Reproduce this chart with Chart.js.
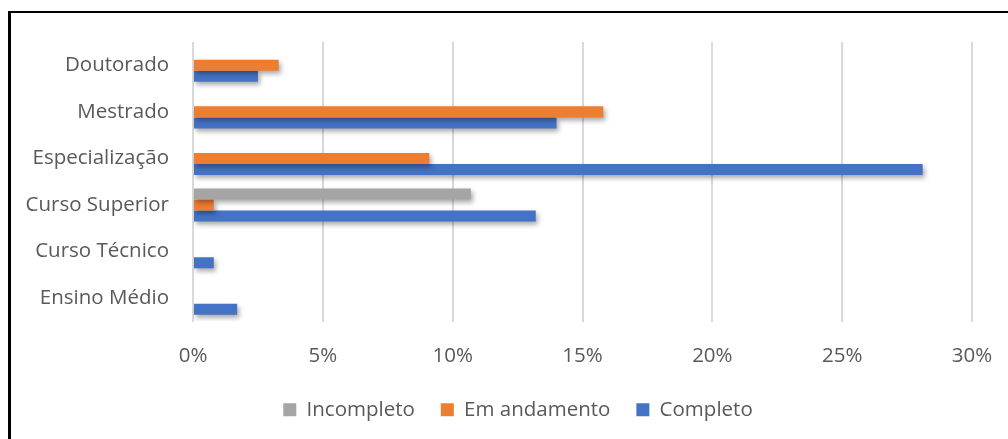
<!DOCTYPE html>
<html lang="pt">
<head>
<meta charset="utf-8">
<title>Escolaridade</title>
<script src="https://cdn.jsdelivr.net/npm/chart.js@4/dist/chart.umd.min.js"></script>
<style>
  html, body { margin: 0; padding: 0; background: #fff; }
  #wrap { position: relative; width: 1008px; height: 439px; overflow: hidden; }
  /* moldura: só topo e esquerda aparecem */
  #frame { position: absolute; left: 8px; top: 11px; width: 1010px; height: 440px;
           border-top: 2px solid #000; border-left: 3px solid #000; }
  #grafico { position: absolute; left: 0; top: 0; }
</style>
</head>
<body>
<div id="wrap">
  <div id="frame"></div>
  <canvas id="grafico" width="1008" height="439"></canvas>
</div>
<script>
// níveis de formação (de cima para baixo)
const niveis = ['Doutorado', 'Mestrado', 'Especialização', 'Curso Superior', 'Curso Técnico', 'Ensino Médio'];

// percentuais por situação
const incompleto  = [0, 0, 0, 10.7, 0, 0];
const emAndamento = [3.3, 15.8, 9.1, 0.8, 0, 0];
const completo    = [2.5, 14.0, 28.1, 13.2, 0.8, 1.7];

const ticksX = [0, 5, 10, 15, 20, 25, 30];

const fonte = { family: "'Open Sans', 'Liberation Sans', sans-serif", size: 20.5 };
const cinzaTexto = '#595959';

// sombra suave sob as barras
const sombraBarras = {
  id: 'sombraBarras',
  beforeDatasetsDraw(chart) {
    const c = chart.ctx;
    c.save();
    c.shadowColor = 'rgba(0,0,0,0.35)';
    c.shadowBlur = 5;
    c.shadowOffsetX = 2;
    c.shadowOffsetY = 3;
  },
  afterDatasetsDraw(chart) {
    chart.ctx.restore();
  }
};

// legenda um pouco deslocada para a direita
const deslocaLegenda = {
  id: 'deslocaLegenda',
  afterLayout(chart) {
    chart.legend.left += 32;
    chart.legend.right += 32;
  }
};

const ctx = document.getElementById('grafico').getContext('2d');
new Chart(ctx, {
  type: 'bar',
  data: {
    labels: niveis,
    datasets: [
      { label: 'Incompleto', data: incompleto, backgroundColor: '#A5A5A5' },
      { label: 'Em andamento', data: emAndamento, backgroundColor: '#ED7D31' },
      { label: 'Completo', data: completo, backgroundColor: '#4472C4' }
    ]
  },
  options: {
    indexAxis: 'y',
    responsive: false,
    animation: false,
    categoryPercentage: 0.71,
    barPercentage: 1,
    layout: { padding: { top: 42, right: 36, bottom: 9, left: 0 } },
    scales: {
      x: {
        min: 0,
        max: 30,
        afterBuildTicks(scale) { scale.ticks = ticksX.map(v => ({ value: v })); },
        afterFit(scale) {
          scale.height = 52;
          scale.paddingLeft = 0;
          scale.paddingRight = 0;
        },
        grid: { color: '#d9d9d9', lineWidth: 2, drawTicks: false },
        border: { display: false },
        ticks: {
          padding: 22,
          color: cinzaTexto,
          font: fonte,
          callback: v => v + '%'
        }
      },
      y: {
        afterFit(scale) { scale.width = 193; },
        grid: { display: false },
        border: { display: false },
        ticks: { padding: 16, color: cinzaTexto, font: fonte }
      }
    },
    plugins: {
      legend: {
        position: 'bottom',
        labels: {
          boxWidth: 13,
          boxHeight: 13,
          padding: 26,
          color: cinzaTexto,
          font: fonte
        }
      },
      tooltip: { enabled: false }
    }
  },
  plugins: [sombraBarras, deslocaLegenda]
});
</script>
</body>
</html>
